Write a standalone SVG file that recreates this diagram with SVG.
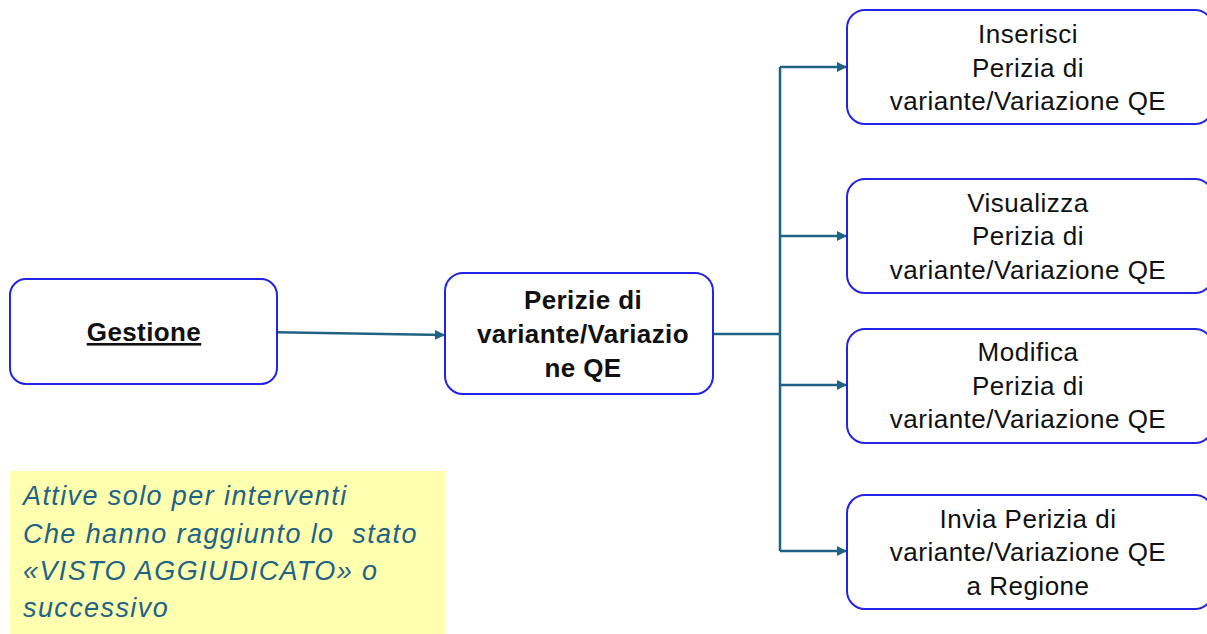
<svg xmlns="http://www.w3.org/2000/svg" width="1207" height="634" viewBox="0 0 1207 634">
<defs>
<style>
.box{fill:#fff;stroke:#2323e6;stroke-width:2}
.t{font-family:"Liberation Sans",Arial,sans-serif;font-size:26px;letter-spacing:0.5px;fill:#111;text-anchor:middle}
.b{font-weight:bold;letter-spacing:0.4px}
.con{fill:none;stroke:#1f6384;stroke-width:2.5}
.note{font-family:"Liberation Sans",Arial,sans-serif;font-size:27px;letter-spacing:1.4px;font-style:italic;fill:#1f6384}
</style>
<marker id="ah" viewBox="0 0 10 10" refX="10" refY="5" markerWidth="10" markerHeight="10" markerUnits="userSpaceOnUse" orient="auto">
<path d="M0,0 L10,5 L0,10 z" fill="#1f6384"/>
</marker>
</defs>
<rect width="1207" height="634" fill="#fff"/>
<g id="connectors">
<path class="con" d="M277,332.3 L445,335" marker-end="url(#ah)"/>
<path class="con" d="M713,334 L780,334"/>
<path class="con" d="M780,67 L780,551"/>
<path class="con" d="M780,67 L847,67" marker-end="url(#ah)"/>
<path class="con" d="M780,236 L847,236" marker-end="url(#ah)"/>
<path class="con" d="M780,385 L847,385" marker-end="url(#ah)"/>
<path class="con" d="M780,551 L847,551" marker-end="url(#ah)"/>
</g>
<g id="gestione">
<rect class="box" x="10" y="279" width="267" height="105" rx="16"/>
<text class="t b" x="144" y="341" text-decoration="underline">Gestione</text>
</g>
<g id="perizie">
<rect class="box" x="445" y="273" width="268" height="121" rx="18"/>
<text class="t b" x="583" y="309">Perizie di</text>
<text class="t b" x="583" y="343">variante/Variazio</text>
<text class="t b" x="583" y="377">ne QE</text>
</g>
<g id="inserisci">
<rect class="box" x="847" y="10" width="366" height="114" rx="18"/>
<text class="t" x="1028" y="43">Inserisci</text>
<text class="t" x="1028" y="77">Perizia di</text>
<text class="t" x="1028" y="110">variante/Variazione QE</text>
</g>
<g id="visualizza">
<rect class="box" x="847" y="179" width="366" height="114" rx="18"/>
<text class="t" x="1028" y="212">Visualizza</text>
<text class="t" x="1028" y="245">Perizia di</text>
<text class="t" x="1028" y="279">variante/Variazione QE</text>
</g>
<g id="modifica">
<rect class="box" x="847" y="329" width="366" height="114" rx="18"/>
<text class="t" x="1028" y="361">Modifica</text>
<text class="t" x="1028" y="395">Perizia di</text>
<text class="t" x="1028" y="428">variante/Variazione QE</text>
</g>
<g id="invia">
<rect class="box" x="847" y="495" width="366" height="114" rx="18"/>
<text class="t" x="1028" y="528">Invia Perizia di</text>
<text class="t" x="1028" y="561">variante/Variazione QE</text>
<text class="t" x="1028" y="595">a Regione</text>
</g>
<g id="note">
<rect x="10" y="471" width="435" height="163" fill="#ffffb0"/>
<text class="note" x="23" y="505">Attive solo per interventi</text>
<text class="note" x="23" y="543" xml:space="preserve">Che hanno raggiunto lo  stato</text>
<text class="note" x="23" y="580">«VISTO AGGIUDICATO» o</text>
<text class="note" x="23" y="617">successivo</text>
</g>
</svg>
